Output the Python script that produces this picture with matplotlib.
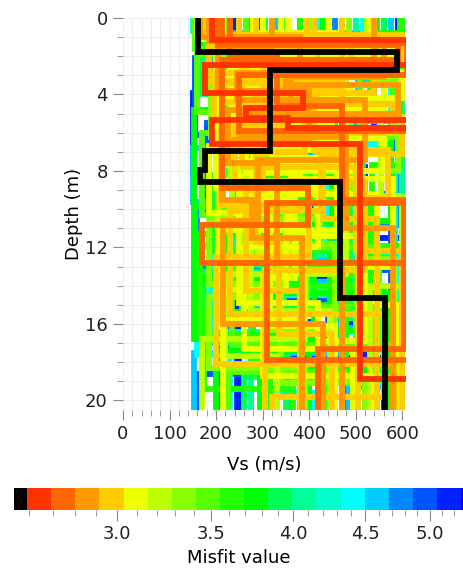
import numpy as np
import matplotlib.pyplot as plt
from matplotlib.colors import ListedColormap, BoundaryNorm
from matplotlib.ticker import FixedLocator, MultipleLocator, NullFormatter

# misfit colour scale (black = best model)
palette = ['#000000', '#FF3300', '#FF6600', '#FF9900', '#FFCC00', '#EEFF00', '#BBFF00',
           '#88FF00', '#55FF00', '#22FF00', '#00FF00', '#00FF55', '#00FF99', '#00FFCC',
           '#00FFFF', '#00CCFF', '#0088FF', '#0055FF', '#0022FF', '#0000FF']
misfit_edges = [2.535] + list(np.geomspace(2.590, 5.264, 19)) + [5.28]
misfit_ticks = [3.0, 3.5, 4.0, 4.5, 5.0]

# Vs profiles: interface depths (m) and layer velocities (m/s)
profile_misfit = [
    5.25, 5.20, 5.15, 5.10, 5.05, 4.95, 4.90, 4.85, 4.80, 4.70, 4.62, 4.60, 4.55, 4.52,
    4.45, 4.40, 4.35, 4.20, 4.15, 4.10, 4.05, 3.95, 3.90, 3.87,
    3.80, 3.78, 3.75, 3.72, 3.70, 3.68, 3.66, 3.62, 3.60, 3.58, 3.52, 3.50, 3.47, 3.44,
    3.38, 3.35, 3.33, 3.29, 3.24, 3.22, 3.19, 3.16,
    3.14, 3.13, 3.11, 3.10, 3.09, 3.07, 3.06, 3.05, 3.04,
    3.02, 3.01, 3.00, 2.98, 2.97, 2.95, 2.94, 2.93,
    2.90, 2.88, 2.87, 2.82, 2.78, 2.75, 2.72,
    2.66, 2.62, 2.55,
]
profile_depths = [
    [1.3, 6.0, 11.5, 16.0], [1.5, 4.2, 9.8, 13.5, 17.8], [3.9, 8.2, 12.0],
    [0.9, 3.0, 7.8, 10.6, 15.9], [2.4, 7.0, 13.2, 18.0], [1.3, 5.5, 10.2, 14.8, 18.6],
    [2.1, 6.1, 9.2, 12.1, 16.7], [1.0, 5.0, 10.8, 15.5], [1.0, 3.6, 8.4, 11.4, 19.2],
    [1.7, 4.9, 10.1, 13.0, 17.2], [3.2, 8.9, 14.0, 19.3], [0.8, 2.9, 7.2, 12.6, 16.2],
    [1.9, 6.8, 9.6, 15.2, 18.2], [1.6, 5.2, 9.4, 13.8, 17.5], [1.4, 4.4, 8.8, 11.9, 17.6],
    [1.1, 3.3, 6.5, 10.9, 14.1, 19.6], [1.9, 6.6, 12.3, 17.4], [0.7, 2.6, 7.6, 11.0, 16.4],
    [2.6, 9.4, 15.7], [1.8, 4.6, 8.0, 12.4, 15.6], [1.2, 3.9, 9.0, 14.5, 19.0],
    [1.5, 5.8, 10.4, 13.3, 17.0], [2.2, 6.3, 11.2, 15.0, 18.8], [1.0, 4.0, 8.6, 12.9, 16.9],
    [1.3, 3.4, 7.4, 10.7, 14.4, 18.4], [1.6, 5.4, 10.6, 16.3], [1.7, 5.0, 9.9, 13.7, 17.4],
    [0.9, 2.8, 6.9, 11.6, 16.0], [1.2, 4.8, 16.8], [2.3, 7.7, 13.4, 18.1],
    [1.4, 4.8, 8.2, 12.2, 15.4, 19.4], [2.0, 5.6, 9.3, 14.0, 17.9], [0.8, 4.1, 11.9, 15.8],
    [1.1, 3.7, 7.9, 11.3, 16.6], [1.6, 4.3, 10.0, 13.1, 18.5], [1.9, 6.2, 12.0, 17.0],
    [0.8, 3.1, 6.0, 10.3, 15.1], [1.9, 4.9, 8.7, 12.7, 17.1],
    [1.2, 2.9, 5.3, 9.1, 14.6, 18.3], [1.4, 3.2, 8.0, 12.6, 18.8], [1.5, 4.1, 7.1, 11.8, 16.3],
    [1.0, 3.5, 6.2, 10.5, 13.9, 19.1], [1.8, 4.5, 8.3, 12.3, 16.8], [2.0, 4.7, 9.3, 14.0],
    [1.3, 3.8, 7.7, 10.8, 15.3], [0.9, 2.4, 5.9, 9.7, 13.4, 17.7],
    [1.4, 3.2, 6.4, 9.5, 14.2], [0.8, 2.0, 3.5, 4.8, 6.2, 7.5, 9.2, 15.0],
    [1.1, 2.7, 4.9, 8.9, 12.0, 17.3], [1.6, 2.8, 4.2, 5.5, 6.9, 8.4, 13.0],
    [1.7, 3.9, 7.3, 11.1, 15.8], [1.0, 3.0, 5.5, 8.1, 13.6, 18.7],
    [1.1, 2.1, 3.7, 5.0, 6.3, 8.0, 11.4, 16.9], [1.6, 4.4, 6.7, 10.2, 16.1],
    [1.2, 2.6, 5.1, 9.9, 14.9],
    [1.3, 3.6, 6.1, 9.8, 12.5, 18.1], [1.3, 2.4, 3.9, 5.2, 7.1, 10.5],
    [0.9, 2.3, 4.7, 7.0, 11.7, 16.5], [0.9, 2.7, 4.5, 6.0, 7.8, 12.2],
    [1.5, 3.3, 5.7, 8.5, 13.2], [1.1, 4.0, 6.6, 10.1, 15.5, 19.8],
    [1.8, 3.4, 4.4, 6.9, 9.4], [1.6, 2.9, 5.4, 9.0, 14.3],
    [1.2, 3.1, 4.8, 7.6, 12.8], [2.2, 3.5, 5.0, 6.2, 11.0], [1.7, 3.8, 6.4, 9.5, 11.5],
    [1.0, 2.9, 4.3, 7.4, 10.6, 16.0], [1.3, 3.0, 5.9, 9.7, 17.9], [2.0, 4.6, 9.5, 17.3],
    [1.4, 2.2, 8.9, 10.8, 12.8],
    [2.45, 3.9, 4.7, 5.25, 5.75], [1.15, 5.35, 6.6, 18.9],
    [1.78, 2.72, 6.96, 7.96, 8.59, 14.66],
]
profile_vs = [
    [590, 540, 600, 470, 520], [380, 210, 260, 470, 300, 560], [270, 150, 330, 245],
    [240, 450, 330, 520, 415, 250], [470, 585, 500, 575, 440], [520, 300, 180, 350, 440, 160],
    [290, 155, 400, 575, 230, 380], [560, 440, 590, 530, 600], [160, 340, 235, 305, 545, 480],
    [455, 270, 500, 160, 330, 205], [600, 505, 455, 560, 485], [575, 190, 420, 265, 500, 355],
    [330, 480, 150, 395, 280, 590], [270, 395, 555, 245, 465, 152], [200, 560, 290, 440, 160, 230],
    [420, 250, 360, 215, 520, 315, 410], [515, 575, 430, 595, 545], [150, 225, 470, 370, 190, 530],
    [430, 600, 490, 575], [500, 340, 205, 585, 345, 275], [350, 175, 325, 240, 590, 455],
    [190, 430, 260, 410, 175, 350], [560, 220, 515, 300, 455, 260], [305, 165, 380, 200, 325, 505],
    [430, 310, 200, 450, 225, 570, 295], [545, 480, 575, 445, 600], [165, 250, 350, 155, 410, 200],
    [250, 520, 280, 360, 255, 430], [300, 230, 152, 400], [380, 595, 535, 480, 575],
    [595, 230, 455, 190, 485, 175, 365], [210, 370, 240, 530, 280, 440], [600, 530, 485, 600, 505],
    [470, 185, 300, 420, 165, 315], [155, 435, 215, 330, 500, 225], [225, 580, 425, 550, 470],
    [345, 265, 510, 170, 395, 535], [265, 160, 390, 280, 235, 580],
    [195, 375, 245, 490, 315, 185, 390], [485, 545, 590, 510, 585, 470], [405, 215, 345, 255, 455, 305],
    [175, 290, 190, 415, 185, 340, 520], [280, 480, 230, 290, 390, 170], [540, 470, 555, 600, 530],
    [525, 255, 365, 205, 275, 445], [160, 330, 420, 235, 480, 220, 330],
    [300, 200, 440, 280, 350, 215], [280, 470, 240, 560, 330, 500, 250, 545, 590],
    [165, 410, 280, 200, 420, 260, 495], [530, 300, 600, 210, 450, 380, 580, 470],
    [440, 230, 320, 460, 205, 385], [215, 350, 205, 265, 370, 300, 540],
    [340, 580, 265, 490, 225, 560, 360, 520, 430], [355, 260, 480, 185, 315, 455],
    [190, 520, 235, 330, 250, 420],
    [250, 300, 470, 210, 400, 200, 585], [410, 230, 540, 300, 600, 430, 545],
    [175, 600, 255, 390, 285, 335, 450], [230, 490, 350, 580, 255, 500, 600],
    [395, 185, 345, 240, 520, 305], [210, 420, 280, 425, 230, 560, 320],
    [285, 470, 215, 410, 570, 505], [470, 265, 195, 300, 265, 380],
    [185, 560, 360, 225, 330, 470], [540, 350, 590, 250, 480, 580], [320, 205, 400, 213, 277, 385],
    [165, 380, 245, 520, 290, 215, 430], [212, 610, 250, 640, 310, 650], [230, 330, 470, 604, 420],
    [205, 590, 213, 398, 170, 650],
    [650, 176, 386, 265, 355, 650], [191, 650, 191, 510, 650],
    [161, 589, 316, 176, 166, 467, 563],
]

plt.rcParams['font.family'] = 'DejaVu Sans'
plt.rcParams['font.size'] = 13

cmap = ListedColormap(palette)
norm = BoundaryNorm(misfit_edges, cmap.N)

fig = plt.figure(figsize=(4.64, 5.73), dpi=100)
ax = fig.add_axes([123 / 464, 1 - 410 / 573, 283 / 464, 392 / 573])

# worst models first, best on top
order = np.argsort(profile_misfit)[::-1]
for i in order:
    d = profile_depths[i]
    v = profile_vs[i]
    ys = np.concatenate([[0], np.repeat(d, 2), [25]])
    xs = np.repeat(v, 2)
    ax.plot(xs, ys, color=cmap(norm(profile_misfit[i])), lw=4.2,
            solid_joinstyle='miter', solid_capstyle='butt')

ax.set_xlim(0, 608)
ax.set_ylim(20.5, 0)
ax.xaxis.set_major_locator(MultipleLocator(100))
ax.xaxis.set_minor_locator(MultipleLocator(20))
ax.yaxis.set_major_locator(MultipleLocator(4))
ax.yaxis.set_minor_locator(MultipleLocator(1))
ax.grid(True, which='both', color='#eeeeee', lw=0.8)
ax.set_axisbelow(True)
for s in ax.spines.values():
    s.set_visible(False)
ax.tick_params(which='major', length=7, color='#888888', pad=4, labelcolor='#222222')
ax.tick_params(which='minor', length=4, color='#888888')
ax.set_xlabel('Vs (m/s)', labelpad=9)
ax.set_ylabel('Depth (m)', labelpad=1)

# colour bar
cax = fig.add_axes([14 / 464, 1 - 510 / 573, 449 / 464, 22 / 573])
cax.set_xscale('log')
for k in range(len(palette)):
    cax.axvspan(misfit_edges[k], misfit_edges[k + 1], color=palette[k], lw=0)
cax.set_xlim(misfit_edges[0], misfit_edges[-1])
cax.set_ylim(0, 1)
cax.set_yticks([])
cax.xaxis.set_major_locator(FixedLocator(misfit_ticks))
cax.xaxis.set_major_formatter(plt.FixedFormatter(['%.1f' % t for t in misfit_ticks]))
cax.xaxis.set_minor_locator(FixedLocator([round(2.6 + 0.1 * k, 1) for k in range(27)]))
cax.xaxis.set_minor_formatter(NullFormatter())
cax.tick_params(which='major', length=8, color='#888888', pad=3, labelcolor='#222222')
cax.tick_params(which='minor', length=4, color='#888888')
for s in cax.spines.values():
    s.set_visible(False)
cax.set_xlabel('Misfit value', labelpad=4)

fig.savefig('out.png', dpi=100)
